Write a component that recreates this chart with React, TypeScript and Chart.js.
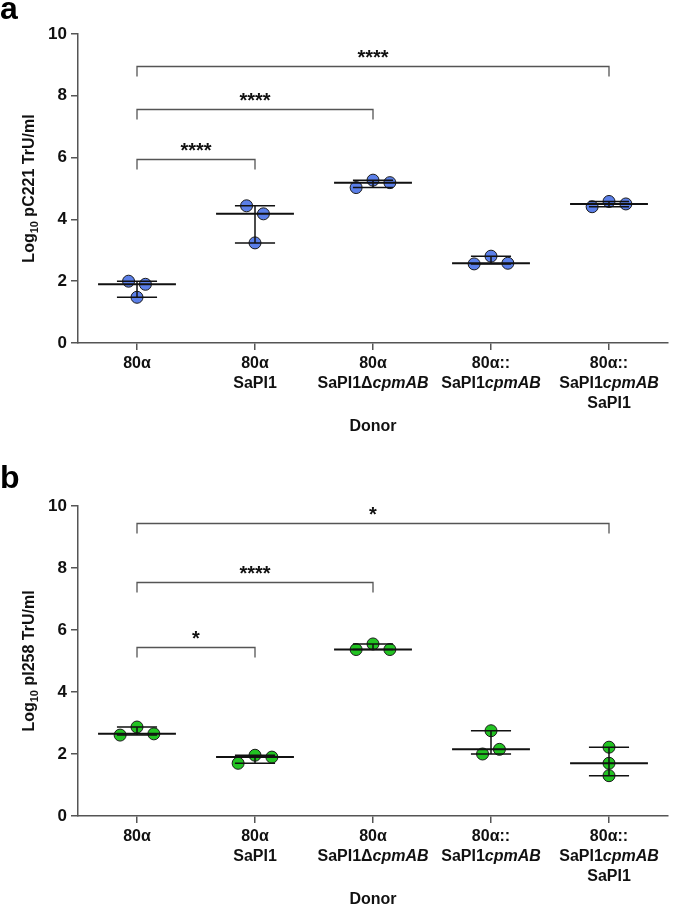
import React, { useEffect, useRef } from "react";
import { Chart, registerables } from "chart.js";

Chart.register(...registerables);

// ---------- data ----------
const categories = [
  "80α",
  "80α\nSaPI1",
  "80α\nSaPI1Δ{cpmAB}",
  "80α::\nSaPI1{cpmAB}",
  "80α::\nSaPI1{cpmAB}\nSaPI1",
];

const yTicks = [0, 2, 4, 6, 8, 10];

// panel a: Log10 pC221 TrU/ml
const pC221_80a = [2.0, 1.9, 1.48];
const pC221_SaPI1 = [4.44, 4.18, 3.24];
const pC221_dcpmAB = [5.03, 5.27, 5.19];
const pC221_cpmAB = [2.56, 2.81, 2.58];
const pC221_cpmAB_SaPI1 = [4.41, 4.58, 4.5];

const pC221BracketFrom = [0, 0, 0];
const pC221BracketTo = [1, 2, 4];
const pC221BracketY = [5.95, 7.57, 8.96];
const pC221BracketLabel = ["****", "****", "****"];

// panel b: Log10 pI258 TrU/ml
const pI258_80a = [2.61, 2.87, 2.65];
const pI258_SaPI1 = [1.7, 1.96, 1.9];
const pI258_dcpmAB = [5.37, 5.55, 5.37];
const pI258_cpmAB = [2.0, 2.75, 2.15];
const pI258_cpmAB_SaPI1 = [2.22, 1.7, 1.3];

const pI258BracketFrom = [0, 0, 0];
const pI258BracketTo = [1, 2, 4];
const pI258BracketY = [5.46, 7.54, 9.44];
const pI258BracketLabel = ["*", "****", "*"];

// ---------- style ----------
const FONT = "'Liberation Sans', Arial, Helvetica, sans-serif";
const AXIS = "#555";
const INK = "#111";
const MED_HALF = 0.33;
const WH_HALF = 0.17;
const JIT_STEP = 0.143;

function median(v: number[]) {
  const s = [...v].sort((a, b) => a - b);
  return s[Math.floor(s.length / 2)];
}

function jitter(vals: number[]) {
  const idx = vals.map((_, i) => i).sort((a, b) => vals[a] - vals[b]);
  const clusters: number[][] = [];
  let cur = [idx[0]];
  for (let k = 1; k < idx.length; k++) {
    if (vals[idx[k]] - vals[idx[k - 1]] < 0.38) cur.push(idx[k]);
    else {
      clusters.push(cur);
      cur = [idx[k]];
    }
  }
  clusters.push(cur);
  const off = vals.map(() => 0);
  clusters.forEach((c) => {
    const s = [...c].sort((a, b) => a - b);
    s.forEach((p, k) => (off[p] = (k - (s.length - 1) / 2) * JIT_STEP));
  });
  return off;
}

function parseSegments(line: string) {
  const segs: { t: string; it: boolean }[] = [];
  const re = /\{([^}]*)\}|([^{]+)/g;
  let m;
  while ((m = re.exec(line))) {
    if (m[1] !== undefined) segs.push({ t: m[1], it: true });
    else segs.push({ t: m[2], it: false });
  }
  return segs;
}

type PanelProps = {
  groups: number[][];
  color: string;
  yLabelMain: string;
  letter: string;
  height: number;
  areaTop: number;
  areaBottom: number;
  letterBaseline: number;
  bFrom: number[];
  bTo: number[];
  bY: number[];
  bLabel: string[];
};

function Panel(p: PanelProps) {
  const ref = useRef<HTMLCanvasElement>(null);
  useEffect(() => {
    const canvas = ref.current!;
    const points: { x: number; y: number }[] = [];
    const meds: any[] = [];
    const whis: any[] = [];
    p.groups.forEach((vals, i) => {
      const off = jitter(vals);
      vals.forEach((v, k) => points.push({ x: i + off[k], y: v }));
      const md = median(vals);
      const lo = Math.min(...vals);
      const hi = Math.max(...vals);
      meds.push({ x: i - MED_HALF, y: md }, { x: i + MED_HALF, y: md }, { x: i, y: null });
      whis.push(
        { x: i - WH_HALF, y: hi }, { x: i + WH_HALF, y: hi }, { x: i, y: null },
        { x: i - WH_HALF, y: lo }, { x: i + WH_HALF, y: lo }, { x: i, y: null },
        { x: i, y: lo }, { x: i, y: hi }, { x: i, y: null }
      );
    });

    const decor = {
      id: "decor",
      afterDraw(chart: any) {
        const ctx = chart.ctx as CanvasRenderingContext2D;
        const xs = chart.scales.x;
        const ys = chart.scales.y;
        const ca = chart.chartArea;
        ctx.save();
        // panel letter
        ctx.fillStyle = "#000";
        ctx.font = `bold 32px ${FONT}`;
        ctx.textAlign = "left";
        ctx.textBaseline = "alphabetic";
        ctx.fillText(p.letter, 0, p.letterBaseline);

        // brackets
        ctx.strokeStyle = AXIS;
        ctx.lineWidth = 1.3;
        p.bY.forEach((yv, k) => {
          const x1 = xs.getPixelForValue(p.bFrom[k]);
          const x2 = xs.getPixelForValue(p.bTo[k]);
          const y = Math.round(ys.getPixelForValue(yv)) + 0.5;
          ctx.beginPath();
          ctx.moveTo(x1, y + 10);
          ctx.lineTo(x1, y);
          ctx.lineTo(x2, y);
          ctx.lineTo(x2, y + 10);
          ctx.stroke();
          ctx.fillStyle = INK;
          ctx.font = `bold 20px ${FONT}`;
          ctx.textAlign = "center";
          ctx.textBaseline = "alphabetic";
          ctx.fillText(p.bLabel[k], (x1 + x2) / 2, y - 3);
        });

        // x tick labels (mixed italic)
        ctx.fillStyle = INK;
        ctx.textBaseline = "middle";
        ctx.textAlign = "left";
        categories.forEach((c, i) => {
          const cx = xs.getPixelForValue(i);
          c.split("\n").forEach((line, li) => {
            const segs = parseSegments(line);
            let w = 0;
            segs.forEach((s) => {
              ctx.font = `${s.it ? "italic " : ""}bold 16px ${FONT}`;
              w += ctx.measureText(s.t).width;
            });
            let x = cx - w / 2;
            const y = ca.bottom + 21 + li * 19.7;
            segs.forEach((s) => {
              ctx.font = `${s.it ? "italic " : ""}bold 16px ${FONT}`;
              ctx.fillText(s.t, x, y);
              x += ctx.measureText(s.t).width;
            });
          });
        });

        // x title
        ctx.font = `bold 16px ${FONT}`;
        ctx.textAlign = "center";
        ctx.fillText("Donor", (ca.left + ca.right) / 2, ca.bottom + 84);

        // y title with subscript
        const cy = (ca.top + ca.bottom) / 2;
        ctx.translate(30, cy);
        ctx.rotate(-Math.PI / 2);
        ctx.textAlign = "left";
        ctx.textBaseline = "middle";
        const parts = [
          { t: "Log", f: `bold 16px ${FONT}`, dy: 0 },
          { t: "10", f: `bold 11px ${FONT}`, dy: 5 },
          { t: " " + p.yLabelMain, f: `bold 16px ${FONT}`, dy: 0 },
        ];
        let tw = 0;
        parts.forEach((q) => {
          ctx.font = q.f;
          tw += ctx.measureText(q.t).width;
        });
        let tx = -tw / 2;
        parts.forEach((q) => {
          ctx.font = q.f;
          ctx.fillText(q.t, tx, q.dy);
          tx += ctx.measureText(q.t).width;
        });
        ctx.restore();
      },
    };

    const chart = new Chart(canvas, {
      type: "scatter",
      data: {
        datasets: [
          {
            data: meds,
            showLine: true,
            spanGaps: false,
            borderColor: INK,
            borderWidth: 2,
            pointRadius: 0,
            order: 0,
          } as any,
          {
            data: whis,
            showLine: true,
            spanGaps: false,
            borderColor: INK,
            borderWidth: 1.5,
            pointRadius: 0,
            order: 0,
          } as any,
          {
            data: points,
            backgroundColor: p.color,
            borderColor: "#1a1a1a",
            borderWidth: 1,
            pointRadius: 6,
            order: 1,
          } as any,
        ],
      },
      options: {
        animation: false,
        responsive: false,
        devicePixelRatio: 1,
        layout: { padding: { top: p.areaTop, right: 4, left: 0, bottom: 0 } },
        plugins: { legend: { display: false }, tooltip: { enabled: false } },
        scales: {
          x: {
            type: "linear",
            min: -0.5,
            max: 4.5,
            afterBuildTicks: (s: any) => {
              s.ticks = categories.map((_, i) => ({ value: i }));
            },
            afterFit: (s: any) => {
              s.height = p.height - p.areaBottom;
            },
            ticks: { display: false },
            grid: { drawOnChartArea: false, drawTicks: true, tickLength: 7, color: AXIS, lineWidth: 1.5 },
            border: { color: AXIS, width: 1.5 },
          },
          y: {
            min: 0,
            max: 10,
            afterBuildTicks: (s: any) => {
              s.ticks = yTicks.map((v) => ({ value: v }));
            },
            afterFit: (s: any) => {
              s.width = 78;
            },
            ticks: {
              color: INK,
              padding: 4,
              font: { family: FONT, size: 17, weight: "bold" },
            },
            grid: { drawOnChartArea: false, drawTicks: true, tickLength: 7, color: AXIS, lineWidth: 1.5 },
            border: { color: AXIS, width: 1.5 },
          },
        },
      } as any,
      plugins: [decor],
    });
    return () => chart.destroy();
  }, []);
  return (
    <canvas
      ref={ref}
      width={675}
      height={p.height}
      style={{ display: "block", width: 675, height: p.height }}
    />
  );
}

export default function App() {
  return (
    <div style={{ position: "absolute", left: 0, top: 0, width: 675, height: 907, background: "#fff" }}>
      <Panel
        groups={[pC221_80a, pC221_SaPI1, pC221_dcpmAB, pC221_cpmAB, pC221_cpmAB_SaPI1]}
        color="#5b7fe8"
        yLabelMain="pC221 TrU/ml"
        letter="a"
        height={453}
        areaTop={34}
        areaBottom={343}
        letterBaseline={19}
        bFrom={pC221BracketFrom}
        bTo={pC221BracketTo}
        bY={pC221BracketY}
        bLabel={pC221BracketLabel}
      />
      <Panel
        groups={[pI258_80a, pI258_SaPI1, pI258_dcpmAB, pI258_cpmAB, pI258_cpmAB_SaPI1]}
        color="#22c322"
        yLabelMain="pI258 TrU/ml"
        letter="b"
        height={454}
        areaTop={53}
        areaBottom={363}
        letterBaseline={35}
        bFrom={pI258BracketFrom}
        bTo={pI258BracketTo}
        bY={pI258BracketY}
        bLabel={pI258BracketLabel}
      />
    </div>
  );
}
